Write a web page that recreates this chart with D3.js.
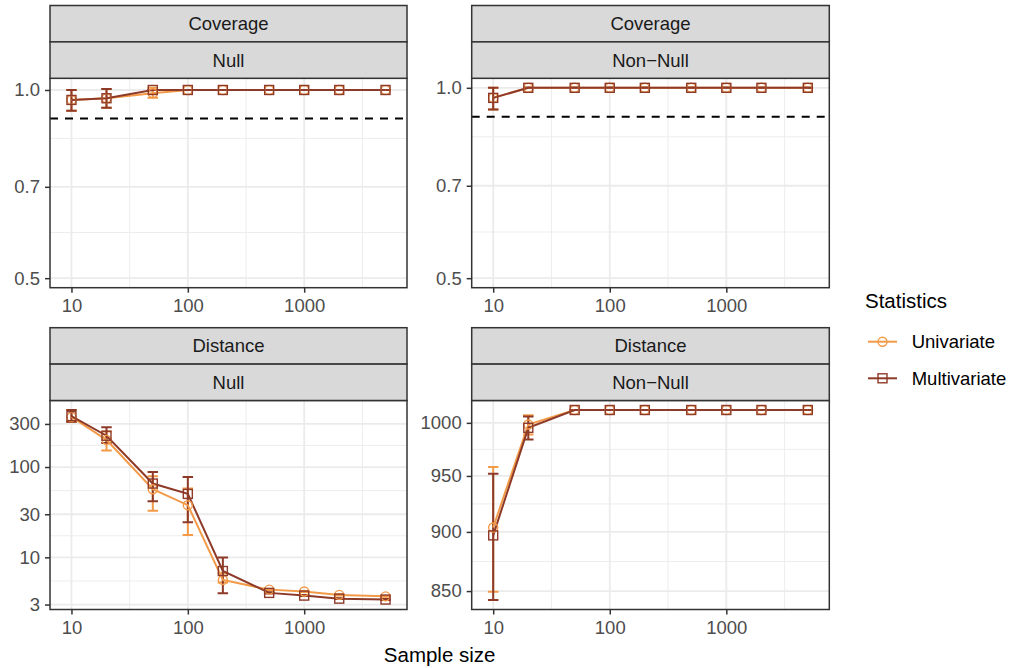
<!DOCTYPE html>
<html>
<head>
<meta charset="utf-8">
<script src="https://cdn.jsdelivr.net/npm/d3@7"></script>
<style>
  body { margin: 0; background: #fff; }
  text { font-family: "Liberation Sans", Arial, sans-serif; }
</style>
</head>
<body>
<svg width="1011" height="668"></svg>
<script>
// ---- data ----
const sampleSizes = [10, 20, 50, 100, 200, 500, 1000, 2000, 5000];
const seriesNames = ["Univariate", "Multivariate"];
const seriesColors = ["#F29A48", "#8E3A29"];
const xTicks = [10, 100, 1000];
const coverageTicks = [0.5, 0.7, 1.0];
const distNullTicks = [3, 10, 30, 100, 300];
const distNonNullTicks = [850, 900, 950, 1000];
const coverageTarget = 0.9;

// Coverage / Null
const covNullUni   = [0.964, 0.970, 0.988, 1, 1, 1, 1, 1, 1];
const covNullUniLo = [0.926, 0.937, 0.972, 1, 1, 1, 1, 1, 1];
const covNullUniHi = [1.000, 1.004, 1.008, 1, 1, 1, 1, 1, 1];
const covNullMul   = [0.964, 0.970, 1.000, 1, 1, 1, 1, 1, 1];
const covNullMulLo = [0.926, 0.937, 1.000, 1, 1, 1, 1, 1, 1];
const covNullMulHi = [1.000, 1.004, 1.000, 1, 1, 1, 1, 1, 1];

// Coverage / Non-Null
const covAltUni   = [0.964, 1, 1, 1, 1, 1, 1, 1, 1];
const covAltUniLo = [0.924, 1, 1, 1, 1, 1, 1, 1, 1];
const covAltUniHi = [1.000, 1, 1, 1, 1, 1, 1, 1, 1];
const covAltMul   = [0.964, 1, 1, 1, 1, 1, 1, 1, 1];
const covAltMulLo = [0.924, 1, 1, 1, 1, 1, 1, 1, 1];
const covAltMulHi = [1.000, 1, 1, 1, 1, 1, 1, 1, 1];

// Distance / Null
const distNullUni   = [358, 200, 56.8, 37.8, 5.62, 4.39, 4.19, 3.84, 3.70];
const distNullUniLo = [316, 152, 32.7, 17.7, 5.26, 4.32, 4.13, 3.79, 3.66];
const distNullUniHi = [425, 247, 78.9, 57.8, 6.66, 4.46, 4.25, 3.89, 3.74];
const distNullMul   = [365, 222, 65.6, 50.4, 7.06, 4.04, 3.77, 3.49, 3.41];
const distNullMulLo = [318, 184, 41.9, 24.4, 4.01, 3.97, 3.72, 3.45, 3.37];
const distNullMulHi = [428, 276, 88.0, 77.6, 9.93, 4.11, 3.82, 3.53, 3.45];

// Distance / Non-Null
const distAltUni   = [903.8, 998.4, 1012.5, 1012.5, 1012.5, 1012.5, 1012.5, 1012.5, 1012.5];
const distAltUniLo = [849.5, 988.8, 1012.5, 1012.5, 1012.5, 1012.5, 1012.5, 1012.5, 1012.5];
const distAltUniHi = [958.3, 1007.4, 1012.5, 1012.5, 1012.5, 1012.5, 1012.5, 1012.5, 1012.5];
const distAltMul   = [897.0, 995.2, 1012.5, 1012.5, 1012.5, 1012.5, 1012.5, 1012.5, 1012.5];
const distAltMulLo = [842.7, 984.0, 1012.5, 1012.5, 1012.5, 1012.5, 1012.5, 1012.5, 1012.5];
const distAltMulHi = [952.0, 1006.1, 1012.5, 1012.5, 1012.5, 1012.5, 1012.5, 1012.5, 1012.5];

function series(v, lo, hi) {
  return sampleSizes.map((n, i) => ({n: n, v: v[i], lo: lo[i], hi: hi[i]}));
}

const panels = [
  {row: 0, col: 0, stat: "Coverage", hyp: "Null", ticks: coverageTicks, fmt: d3.format(".1f"),
   floor: 0.5, hline: coverageTarget,
   data: [series(covNullUni, covNullUniLo, covNullUniHi), series(covNullMul, covNullMulLo, covNullMulHi)]},
  {row: 0, col: 1, stat: "Coverage", hyp: "Non\u2212Null", ticks: coverageTicks, fmt: d3.format(".1f"),
   floor: 0.5, hline: coverageTarget,
   data: [series(covAltUni, covAltUniLo, covAltUniHi), series(covAltMul, covAltMulLo, covAltMulHi)]},
  {row: 1, col: 0, stat: "Distance", hyp: "Null", ticks: distNullTicks, fmt: d3.format("d"),
   data: [series(distNullUni, distNullUniLo, distNullUniHi), series(distNullMul, distNullMulLo, distNullMulHi)]},
  {row: 1, col: 1, stat: "Distance", hyp: "Non\u2212Null", ticks: distNonNullTicks, fmt: d3.format("d"),
   data: [series(distAltUni, distAltUniLo, distAltUniHi), series(distAltMul, distAltMulLo, distAltMulHi)]}
];

// ---- layout ----
const cols = [{x0: 50, x1: 407}, {x0: 471.7, x1: 829.3}];
const rows = [{s0: 5.5, p0: 78.3, p1: 287.7}, {s0: 327.7, p0: 400.5, p1: 609.5}];
const stripH = (rows[0].p0 - rows[0].s0) / 2;
const capW = 0.09;          // errorbar width in log10 units
const smallFont = 18.5, bigFont = 20.5;

const svg = d3.select("svg");
const lg = Math.log10;

// x domain: data +- cap, expanded 5% in log space
const xl0 = lg(d3.min(sampleSizes)) - capW / 2, xl1 = lg(d3.max(sampleSizes)) + capW / 2;
const xPad = (xl1 - xl0) * 0.05;
const xDomain = [Math.pow(10, xl0 - xPad), Math.pow(10, xl1 + xPad)];

function minorBreaks(majors, domain) {
  let b = majors.map(lg).sort((a, c) => a - c);
  const bd = b[1] - b[0];
  const d0 = lg(domain[0]), d1 = lg(domain[1]);
  if (d0 < b[0]) b = [b[0] - bd].concat(b);
  if (d1 > b[b.length - 1]) b = b.concat([b[b.length - 1] + bd]);
  const out = [];
  for (let i = 0; i < b.length - 1; i++) {
    const m = (b[i] + b[i + 1]) / 2;
    if (m > d0 && m < d1) out.push(Math.pow(10, m));
  }
  return out;
}

panels.forEach((p, pi) => {
  const c = cols[p.col], r = rows[p.row];
  const x = d3.scaleLog().domain(xDomain).range([c.x0, c.x1]);

  const all = p.data.flat();
  let lo = d3.min(all, d => d.lo), hi = d3.max(all, d => d.hi);
  if (p.floor !== undefined) lo = Math.min(lo, p.floor);
  const yPad = (lg(hi) - lg(lo)) * 0.05;
  const y = d3.scaleLog()
      .domain([Math.pow(10, lg(lo) - yPad), Math.pow(10, lg(hi) + yPad)])
      .range([r.p1, r.p0]);

  const g = svg.append("g");
  const clipId = "clip" + pi;
  svg.append("clipPath").attr("id", clipId)
    .append("rect").attr("x", c.x0).attr("y", r.p0)
    .attr("width", c.x1 - c.x0).attr("height", r.p1 - r.p0);

  const grid = g.append("g");
  // minor grid
  grid.selectAll(".mx").data(minorBreaks(xTicks, xDomain)).enter().append("line")
    .attr("x1", d => x(d)).attr("x2", d => x(d)).attr("y1", r.p0).attr("y2", r.p1)
    .attr("stroke", "#EBEBEB").attr("stroke-width", 0.9);
  grid.selectAll(".my").data(minorBreaks(p.ticks, y.domain())).enter().append("line")
    .attr("y1", d => y(d)).attr("y2", d => y(d)).attr("x1", c.x0).attr("x2", c.x1)
    .attr("stroke", "#EBEBEB").attr("stroke-width", 0.9);
  // major grid
  grid.selectAll(".gx").data(xTicks).enter().append("line")
    .attr("x1", d => x(d)).attr("x2", d => x(d)).attr("y1", r.p0).attr("y2", r.p1)
    .attr("stroke", "#EBEBEB").attr("stroke-width", 1.8);
  grid.selectAll(".gy").data(p.ticks).enter().append("line")
    .attr("y1", d => y(d)).attr("y2", d => y(d)).attr("x1", c.x0).attr("x2", c.x1)
    .attr("stroke", "#EBEBEB").attr("stroke-width", 1.8);

  const plot = g.append("g").attr("clip-path", `url(#${clipId})`);

  if (p.hline !== undefined) {
    plot.append("line")
      .attr("x1", c.x0).attr("x2", c.x1).attr("y1", y(p.hline)).attr("y2", y(p.hline))
      .attr("stroke", "#000").attr("stroke-width", 2).attr("stroke-dasharray", "8,7");
  }

  // error bars
  p.data.forEach((s, si) => {
    const eb = plot.append("g").attr("stroke", seriesColors[si]).attr("stroke-width", 2);
    s.forEach(d => {
      const xa = x(d.n / Math.pow(10, capW / 2)), xb = x(d.n * Math.pow(10, capW / 2));
      eb.append("line").attr("x1", x(d.n)).attr("x2", x(d.n)).attr("y1", y(d.lo)).attr("y2", y(d.hi));
      eb.append("line").attr("x1", xa).attr("x2", xb).attr("y1", y(d.lo)).attr("y2", y(d.lo));
      eb.append("line").attr("x1", xa).attr("x2", xb).attr("y1", y(d.hi)).attr("y2", y(d.hi));
    });
  });

  // lines
  const line = d3.line().x(d => x(d.n)).y(d => y(d.v));
  p.data.forEach((s, si) => {
    plot.append("path").datum(s)
      .attr("fill", "none").attr("stroke", seriesColors[si]).attr("stroke-width", 2)
      .attr("d", line);
  });

  // points
  p.data.forEach((s, si) => {
    const pts = plot.append("g").attr("fill", "none")
      .attr("stroke", seriesColors[si]).attr("stroke-width", 1.4);
    if (si === 0) {
      pts.selectAll("circle").data(s).enter().append("circle")
        .attr("cx", d => x(d.n)).attr("cy", d => y(d.v)).attr("r", 4.5);
    } else {
      pts.selectAll("rect").data(s).enter().append("rect")
        .attr("x", d => x(d.n) - 4.5).attr("y", d => y(d.v) - 4.5)
        .attr("width", 9).attr("height", 9);
    }
  });

  // border
  g.append("rect").attr("x", c.x0).attr("y", r.p0)
    .attr("width", c.x1 - c.x0).attr("height", r.p1 - r.p0)
    .attr("fill", "none").attr("stroke", "#333333").attr("stroke-width", 1.5);

  // strips
  [p.stat, p.hyp].forEach((lab, k) => {
    const sy = r.s0 + k * stripH;
    g.append("rect").attr("x", c.x0).attr("y", sy)
      .attr("width", c.x1 - c.x0).attr("height", stripH)
      .attr("fill", "#D9D9D9").attr("stroke", "#333333").attr("stroke-width", 1.5);
    g.append("text").attr("x", (c.x0 + c.x1) / 2).attr("y", sy + stripH / 2)
      .attr("dy", "0.35em").attr("text-anchor", "middle")
      .attr("font-size", smallFont).attr("fill", "#1A1A1A").text(lab);
  });

  // axes
  const ax = g.append("g").attr("transform", `translate(0,${r.p1})`)
    .call(d3.axisBottom(x).tickValues(xTicks).tickFormat(d3.format("d")).tickSize(5).tickPadding(6));
  const ay = g.append("g").attr("transform", `translate(${c.x0},0)`)
    .call(d3.axisLeft(y).tickValues(p.ticks).tickFormat(p.fmt).tickSize(5).tickPadding(5));
  [ax, ay].forEach(a => {
    a.select(".domain").remove();
    a.selectAll(".tick line").attr("stroke", "#333333").attr("stroke-width", 1.5);
    a.selectAll(".tick text").attr("fill", "#4D4D4D").attr("font-size", smallFont)
      .attr("font-family", "'Liberation Sans', Arial, sans-serif");
  });
});

// x axis title
svg.append("text").attr("x", (cols[0].x0 + cols[1].x1) / 2).attr("y", 662)
  .attr("text-anchor", "middle").attr("font-size", bigFont).attr("fill", "#000")
  .text("Sample size");

// legend
const leg = svg.append("g");
leg.append("text").attr("x", 865).attr("y", 308).attr("font-size", bigFont).attr("fill", "#000")
  .text("Statistics");
seriesNames.forEach((name, i) => {
  const ly = 341.7 + i * 36.6;
  leg.append("line").attr("x1", 868).attr("x2", 897).attr("y1", ly).attr("y2", ly)
    .attr("stroke", seriesColors[i]).attr("stroke-width", 2);
  if (i === 0) {
    leg.append("circle").attr("cx", 882.5).attr("cy", ly).attr("r", 4.5)
      .attr("fill", "none").attr("stroke", seriesColors[i]).attr("stroke-width", 1.4);
  } else {
    leg.append("rect").attr("x", 878).attr("y", ly - 4.5).attr("width", 9).attr("height", 9)
      .attr("fill", "none").attr("stroke", seriesColors[i]).attr("stroke-width", 1.4);
  }
  leg.append("text").attr("x", 911.7).attr("y", ly).attr("dy", "0.35em")
    .attr("font-size", smallFont).attr("fill", "#000").text(name);
});
</script>
</body>
</html>
